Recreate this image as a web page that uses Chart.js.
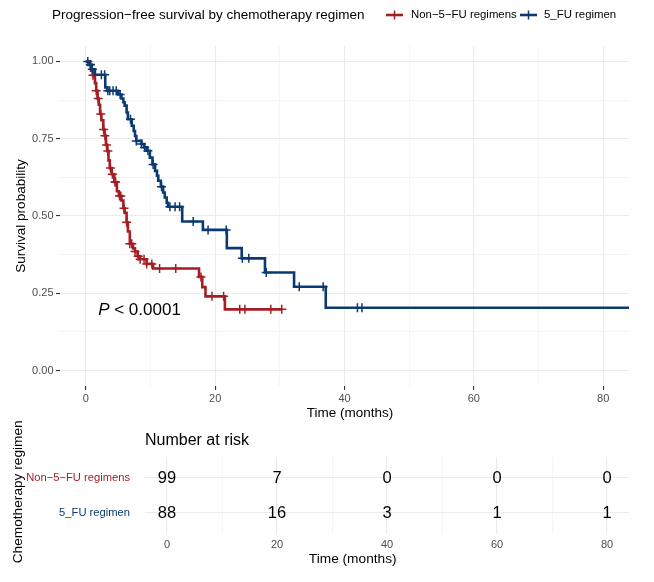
<!DOCTYPE html>
<html>
<head>
<meta charset="utf-8">
<script src="https://cdn.jsdelivr.net/npm/chart.js@4.4.1/dist/chart.umd.min.js"></script>
<style>
  html, body { margin: 0; padding: 0; background: #fff; }
  #wrap { position: relative; width: 654px; height: 582px; }
  canvas { position: absolute; left: 0; }
  #km { top: 0; }
  #risk { top: 400px; }
</style>
</head>
<body>
<div id="wrap">
  <canvas id="km" width="654" height="420"></canvas>
  <canvas id="risk" width="654" height="182"></canvas>
</div>
<script>
const FONT = "'Liberation Sans', Arial, Helvetica, sans-serif";
const groups = ["Non\u22125\u2212FU regimens", "5_FU regimen"];
const colors = ["#A51E24", "#0B3A70"];

// KM steps (time in months, survival after the step)
const redTime = [0, 0.5, 0.8, 1.1, 1.4, 1.6, 1.8, 2.0, 2.2, 2.4, 2.7, 2.9, 3.1, 3.3, 3.5, 3.7, 4.0, 4.4, 4.8, 5.1, 5.5, 5.8, 6.0, 6.3, 6.5, 6.8, 7.3, 7.6, 8.0, 8.4, 9.4, 10.4, 17.5, 18.0, 18.5, 21.5, 30.3];
const redSurv = [1, 0.99, 0.97, 0.955, 0.93, 0.905, 0.88, 0.86, 0.83, 0.81, 0.78, 0.76, 0.73, 0.71, 0.68, 0.655, 0.635, 0.61, 0.58, 0.565, 0.55, 0.525, 0.51, 0.48, 0.45, 0.41, 0.395, 0.385, 0.37, 0.36, 0.345, 0.33, 0.303, 0.27, 0.24, 0.198, 0.198];
const redCensor = [0.7, 1.1, 1.35, 1.6, 1.9, 2.3, 2.75, 2.95, 3.2, 3.4, 3.8, 4.1, 4.5, 4.6, 5.2, 5.4, 5.9, 6.3, 6.8, 7.1, 7.6, 8.1, 8.4, 9.0, 9.4, 10.2, 11.4, 13.9, 17.8, 19.5, 21.3, 23.8, 24.6, 28.6, 30.3];

const blueTime = [0, 0.4, 0.9, 1.4, 3.0, 3.3, 5.0, 5.5, 5.8, 6.0, 6.3, 6.5, 7.1, 7.4, 7.6, 7.8, 8.6, 9.0, 9.4, 9.9, 10.3, 10.7, 11.0, 11.2, 11.6, 11.95, 12.2, 12.5, 12.7, 14.9, 18.1, 21.8, 24.1, 27.7, 32.2, 37.1, 84];
const blueSurv = [1, 0.989, 0.975, 0.957, 0.916, 0.905, 0.893, 0.88, 0.868, 0.857, 0.835, 0.813, 0.792, 0.775, 0.759, 0.743, 0.733, 0.722, 0.711, 0.689, 0.667, 0.646, 0.63, 0.614, 0.595, 0.576, 0.56, 0.543, 0.53, 0.482, 0.455, 0.396, 0.363, 0.317, 0.271, 0.203, 0.203];
const blueCensor = [0.3, 0.7, 1.0, 2.4, 2.9, 3.4, 3.7, 4.2, 4.7, 5.3, 6.9, 7.8, 8.6, 9.1, 9.6, 10.4, 11.7, 13.0, 13.8, 14.5, 16.6, 18.9, 21.7, 24.2, 25.2, 27.9, 33.0, 36.7, 42.0, 42.7];

// number at risk
const riskTimes = [0, 20, 40, 60, 80];
const redRisk = [99, 7, 0, 0, 0];
const blueRisk = [88, 16, 3, 1, 1];

const xTicks = [0, 10, 20, 30, 40, 50, 60, 70, 80];
const yTicks = [0, 0.125, 0.25, 0.375, 0.5, 0.625, 0.75, 0.875, 1];

Chart.defaults.font.family = FONT;
Chart.defaults.animation = false;

function survAt(times, surv, t) {
  let s = surv[0];
  times.forEach((tt, i) => { if (tt <= t) s = surv[i]; });
  return s;
}
const steps = (times, surv) => times.map((t, i) => ({ x: t, y: surv[i] }));
const marks = (cens, times, surv) => cens.map((t) => ({ x: t, y: survAt(times, surv, t) }));
const isMajorX = (v) => v % 20 === 0;
const isMajorY = (v) => Math.abs(v * 4 - Math.round(v * 4)) < 1e-9;

// titles, legend, axis titles and p value for the KM panel
const kmLabels = {
  id: "kmLabels",
  afterDraw(chart) {
    const { ctx, scales: { x, y }, chartArea: a } = chart;
    ctx.save();
    ctx.fillStyle = "#000";
    ctx.textBaseline = "middle";
    ctx.textAlign = "left";
    ctx.font = "13.5px " + FONT;
    ctx.fillText("Progression\u2212free survival by chemotherapy regimen", 52, 15);

    const keyX = [386, 520], textX = [411, 544];
    ctx.font = "11.4px " + FONT;
    groups.forEach((g, i) => {
      ctx.strokeStyle = colors[i];
      ctx.lineWidth = 2.6;
      ctx.beginPath();
      ctx.moveTo(keyX[i], 15); ctx.lineTo(keyX[i] + 17, 15);
      ctx.stroke();
      ctx.lineWidth = 1.5;
      ctx.beginPath();
      ctx.moveTo(keyX[i] + 8.5, 10.5); ctx.lineTo(keyX[i] + 8.5, 19.5);
      ctx.stroke();
      ctx.fillStyle = "#000";
      ctx.fillText(g, textX[i], 15);
    });

    ctx.font = "13.5px " + FONT;
    ctx.textAlign = "center";
    ctx.fillText("Time (months)", 350, 413);
    ctx.save();
    ctx.translate(24.5, (a.top + a.bottom) / 2);
    ctx.rotate(-Math.PI / 2);
    ctx.textBaseline = "alphabetic";
    ctx.fillText("Survival probability", 0, 0);
    ctx.restore();

    const px = x.getPixelForValue(1.9), py = y.getPixelForValue(0.196);
    ctx.textAlign = "left";
    ctx.font = "italic 17px " + FONT;
    ctx.fillText("P", px, py);
    const w = ctx.measureText("P").width;
    ctx.font = "17px " + FONT;
    ctx.fillText(" < 0.0001", px + w, py);
    ctx.restore();
  },
};

new Chart(document.getElementById("km"), {
  type: "line",
  data: {
    datasets: [
      { data: steps(blueTime, blueSurv), borderColor: colors[1], borderWidth: 2.6, stepped: true, pointRadius: 0, order: 0 },
      { data: marks(blueCensor, blueTime, blueSurv), showLine: false, pointStyle: "cross", pointRadius: 4.5, borderColor: colors[1], borderWidth: 1.5, order: 0 },
      { data: steps(redTime, redSurv), borderColor: colors[0], borderWidth: 2.6, stepped: true, pointRadius: 0, order: 1 },
      { data: marks(redCensor, redTime, redSurv), showLine: false, pointStyle: "cross", pointRadius: 4.5, borderColor: colors[0], borderWidth: 1.5, order: 1 },
    ],
  },
  options: {
    responsive: false,
    events: [],
    layout: { padding: { top: 46, right: 25, left: 0, bottom: 0 } },
    plugins: { legend: { display: false }, tooltip: { enabled: false } },
    scales: {
      x: {
        type: "linear", min: -4, max: 84,
        afterBuildTicks: (s) => { s.ticks = xTicks.map((v) => ({ value: v })); },
        afterFit: (s) => { s.height = 34; },
        border: { display: false },
        grid: {
          color: "#EBEBEB",
          lineWidth: (c) => (isMajorX(c.tick.value) ? 1.1 : 0.55),
          tickLength: 4, tickWidth: 1.1,
          tickColor: (c) => (isMajorX(c.tick.value) ? "#333333" : "rgba(0,0,0,0)"),
        },
        ticks: {
          autoSkip: false, maxRotation: 0, padding: 2, color: "#4D4D4D",
          font: { size: 11 },
          callback: (v) => (isMajorX(v) ? String(v) : ""),
        },
      },
      y: {
        type: "linear", min: -0.05, max: 1.05,
        afterBuildTicks: (s) => { s.ticks = yTicks.map((v) => ({ value: v })); },
        afterFit: (s) => { s.width = 60; },
        border: { display: false },
        grid: {
          color: "#EBEBEB",
          lineWidth: (c) => (isMajorY(c.tick.value) ? 1.1 : 0.55),
          tickLength: 4, tickWidth: 1.1,
          tickColor: (c) => (isMajorY(c.tick.value) ? "#333333" : "rgba(0,0,0,0)"),
        },
        ticks: {
          autoSkip: false, padding: 2.5, color: "#4D4D4D",
          font: { size: 11 },
          callback: (v) => (isMajorY(v) ? v.toFixed(2) : ""),
        },
      },
    },
  },
  plugins: [kmLabels],
});

// risk table numbers and titles
const riskLabels = {
  id: "riskLabels",
  afterDatasetsDraw(chart) {
    const { ctx, chartArea: a } = chart;
    ctx.save();
    ctx.fillStyle = "#000";
    ctx.textAlign = "center";
    ctx.textBaseline = "middle";
    ctx.font = "16.5px " + FONT;
    chart.data.datasets.forEach((ds, i) => {
      chart.getDatasetMeta(i).data.forEach((pt, j) => ctx.fillText(String(ds.counts[j]), pt.x, pt.y));
    });

    ctx.textAlign = "left";
    ctx.font = "16px " + FONT;
    ctx.fillText("Number at risk", a.left, 40.7);

    ctx.textAlign = "center";
    ctx.font = "13.7px " + FONT;
    ctx.fillText("Time (months)", 352.7, 159.3);
    ctx.save();
    ctx.translate(21.5, 91.8);
    ctx.rotate(-Math.PI / 2);
    ctx.textBaseline = "alphabetic";
    ctx.fillText("Chemotherapy regimen", 0, 0);
    ctx.restore();
    ctx.restore();
  },
};

new Chart(document.getElementById("risk"), {
  type: "scatter",
  data: {
    datasets: [
      { data: riskTimes.map((t) => ({ x: t, y: 1 })), counts: redRisk, pointRadius: 0 },
      { data: riskTimes.map((t) => ({ x: t, y: 2 })), counts: blueRisk, pointRadius: 0 },
    ],
  },
  options: {
    responsive: false,
    events: [],
    layout: { padding: { top: 57, right: 25, left: 0, bottom: 0 } },
    plugins: { legend: { display: false }, tooltip: { enabled: false } },
    scales: {
      x: {
        type: "linear", min: -4, max: 84,
        afterBuildTicks: (s) => { s.ticks = xTicks.map((v) => ({ value: v })); },
        afterFit: (s) => { s.height = 48; },
        border: { display: false },
        grid: {
          color: "#EBEBEB", drawTicks: false,
          lineWidth: (c) => (isMajorX(c.tick.value) ? 1.1 : 0.55),
        },
        ticks: {
          autoSkip: false, maxRotation: 0, padding: 4, color: "#4D4D4D",
          font: { size: 11 },
          callback: (v) => (isMajorX(v) ? String(v) : ""),
        },
      },
      y: {
        type: "linear", min: 0.4, max: 2.6, reverse: true,
        afterBuildTicks: (s) => { s.ticks = [1, 2].map((v) => ({ value: v })); },
        afterFit: (s) => { s.width = 145; },
        border: { display: false },
        grid: { color: "#EBEBEB", lineWidth: 1.1, drawTicks: false },
        ticks: {
          autoSkip: false, padding: 15,
          font: { size: 11.2 },
          color: (c) => colors[c.index],
          callback: (v) => groups[v - 1],
        },
      },
    },
  },
  plugins: [riskLabels],
});
</script>
</body>
</html>
